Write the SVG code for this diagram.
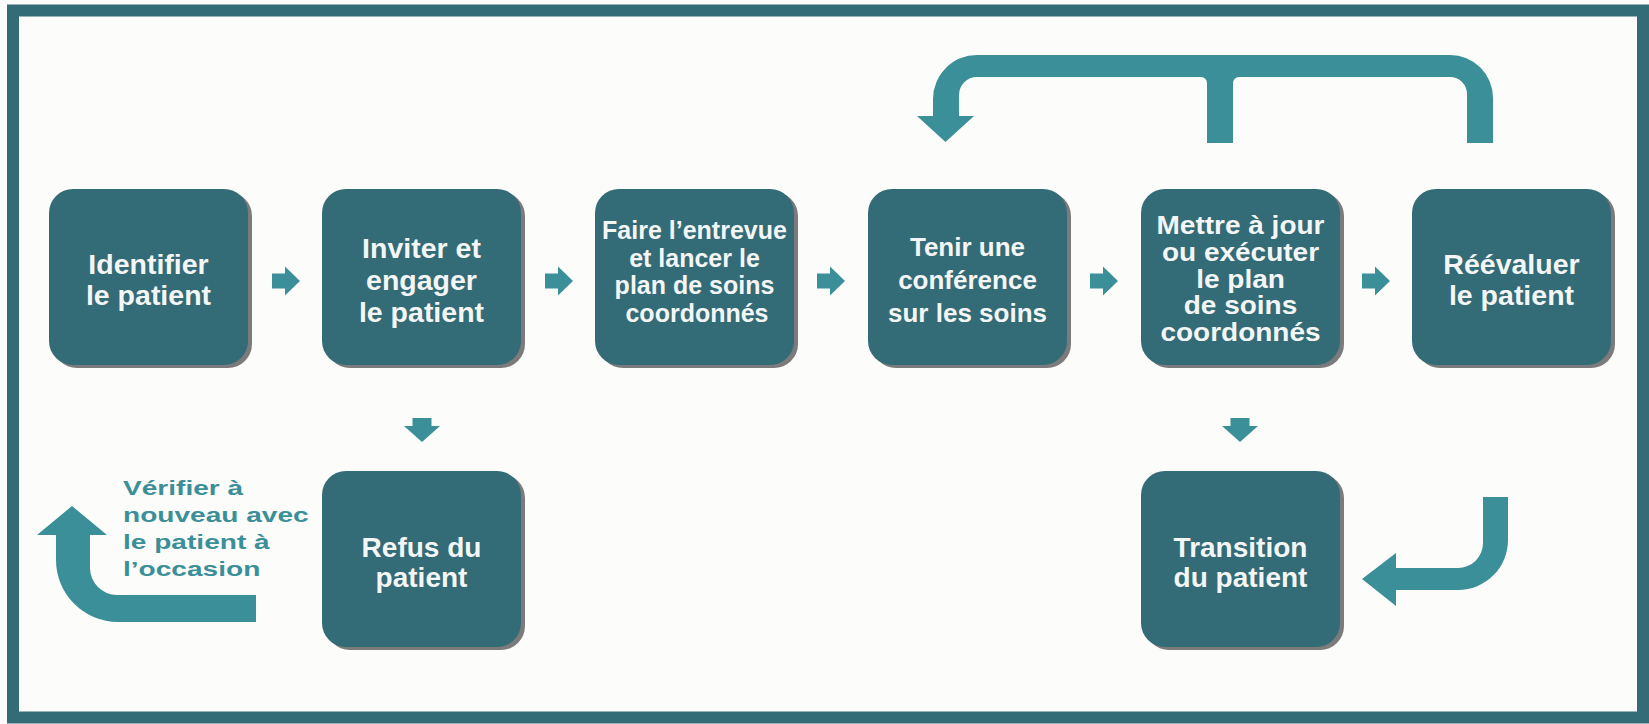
<svg xmlns="http://www.w3.org/2000/svg" xmlns:xlink="http://www.w3.org/1999/xlink" width="1649" height="724" viewBox="0 0 1649 724">
  <style>
    .box { fill: #336b77; }
    .shadow { fill: #7b7b7b; }
    .lbl { font-family: "Liberation Sans", Arial, sans-serif; font-weight: bold; fill: #f4f6f6; text-anchor: middle; }
    .l28 { font-size: 28.5px; }
    .l27 { font-size: 28px; }
    .l26 { font-size: 26px; }
    .l25 { font-size: 25px; }
    .arrow { fill: #3b8f98; }
    .note { font-family: "Liberation Sans", Arial, sans-serif; font-weight: bold; font-size: 20.5px; fill: #3b8f98; }
  </style>
  <defs>
    <!-- small block arrow pointing right, centred on origin -->
    <path id="arrowRight" d="M -14 -7.5 H -1 V -14.5 L 14 0 L -1 14.5 V 7.5 H -14 Z"/>
    <!-- small block arrow pointing down, tip at origin -->
    <path id="arrowDown" d="M -9.5 -24 H 9.5 V -16 H 18 L 0 0 L -18 -16 H -9.5 Z"/>
  </defs>

  <!-- page background and frame -->
  <rect x="0" y="0" width="1649" height="724" fill="#fcfcfa"/>
  <rect x="13" y="10.5" width="1630" height="707" fill="none" stroke="#336b77" stroke-width="12"/>

  <!-- process steps -->
  <g id="identifier">
    <rect class="shadow" x="53" y="192" width="199" height="176" rx="24"/>
    <rect class="box" x="49" y="189" width="199" height="176" rx="24"/>
    <text class="lbl l28" x="148.5" y="273.5">Identifier</text>
    <text class="lbl l28" x="148.5" y="305">le patient</text>
  </g>

  <g id="inviter">
    <rect class="shadow" x="326" y="192" width="199" height="176" rx="24"/>
    <rect class="box" x="322" y="189" width="199" height="176" rx="24"/>
    <text class="lbl l28" x="421.5" y="257.5">Inviter et</text>
    <text class="lbl l28" x="421.5" y="290">engager</text>
    <text class="lbl l28" x="421.5" y="321.5">le patient</text>
  </g>

  <g id="entrevue">
    <rect class="shadow" x="599" y="192" width="199" height="176" rx="24"/>
    <rect class="box" x="595" y="189" width="199" height="176" rx="24"/>
    <text class="lbl l25" x="694.5" y="239">Faire l’entrevue</text>
    <text class="lbl l25" x="694.5" y="267">et lancer le</text>
    <text class="lbl l25" x="694.5" y="294">plan de soins</text>
    <text class="lbl l25" x="697" y="322">coordonnés</text>
  </g>

  <g id="conference">
    <rect class="shadow" x="872" y="192" width="199" height="176" rx="24"/>
    <rect class="box" x="868" y="189" width="199" height="176" rx="24"/>
    <text class="lbl l26" x="967.5" y="255.5">Tenir une</text>
    <text class="lbl l26" x="967.5" y="289">conférence</text>
    <text class="lbl l26" x="967.5" y="321.5">sur les soins</text>
  </g>

  <g id="miseajour">
    <rect class="shadow" x="1145" y="192" width="199" height="176" rx="24"/>
    <rect class="box" x="1141" y="189" width="199" height="176" rx="24"/>
    <g transform="translate(1240.5 0) scale(1.12 1)">
      <text class="lbl l25" x="0" y="234">Mettre à jour</text>
      <text class="lbl l25" x="0" y="261">ou exécuter</text>
      <text class="lbl l25" x="0" y="288">le plan</text>
      <text class="lbl l25" x="0" y="314">de soins</text>
      <text class="lbl l25" x="0" y="341">coordonnés</text>
    </g>
  </g>

  <g id="reevaluer">
    <rect class="shadow" x="1416" y="192" width="199" height="176" rx="24"/>
    <rect class="box" x="1412" y="189" width="199" height="176" rx="24"/>
    <text class="lbl l28" x="1511.5" y="273.5">Réévaluer</text>
    <text class="lbl l28" x="1511.5" y="305">le patient</text>
  </g>

  <g id="refus">
    <rect class="shadow" x="326" y="474" width="199" height="176" rx="24"/>
    <rect class="box" x="322" y="471" width="199" height="176" rx="24"/>
    <text class="lbl l27" x="421.5" y="556.5">Refus du</text>
    <text class="lbl l27" x="421.5" y="587">patient</text>
  </g>

  <g id="transition">
    <rect class="shadow" x="1145" y="474" width="199" height="176" rx="24"/>
    <rect class="box" x="1141" y="471" width="199" height="176" rx="24"/>
    <text class="lbl l27" x="1240.5" y="556.5">Transition</text>
    <text class="lbl l27" x="1240.5" y="587">du patient</text>
  </g>

  <!-- connectors -->
  <g id="connectors" class="arrow">
    <use xlink:href="#arrowRight" href="#arrowRight" x="286" y="281"/>
    <use xlink:href="#arrowRight" href="#arrowRight" x="559" y="281"/>
    <use xlink:href="#arrowRight" href="#arrowRight" x="831" y="281"/>
    <use xlink:href="#arrowRight" href="#arrowRight" x="1104" y="281"/>
    <use xlink:href="#arrowRight" href="#arrowRight" x="1376" y="281"/>
    <use xlink:href="#arrowDown" href="#arrowDown" x="422" y="442"/>
    <use xlink:href="#arrowDown" href="#arrowDown" x="1240" y="442"/>

    <!-- loop back from update / re-assessment to the care conference -->
    <path d="M 917 116 L 945.5 142 L 974 116 L 959 116 L 959 95 A 18 18 0 0 1 977 77 L 1201 77 A 6 6 0 0 1 1207 83 L 1207 143 L 1233 143 L 1233 83 A 6 6 0 0 1 1239 77 L 1450 77 A 17 17 0 0 1 1467 94 L 1467 143 L 1493 143 L 1493 98 A 43 43 0 0 0 1450 55 L 977 55 A 44 44 0 0 0 933 99 L 933 116 Z"/>

    <!-- hook arrow into patient transition -->
    <path d="M 1483 497 L 1508 497 L 1508 540 A 50 50 0 0 1 1458 590 L 1396 590 L 1396 606 L 1362 579 L 1396 553 L 1396 568 L 1458 568 A 25 25 0 0 0 1483 543 Z"/>

    <!-- hook arrow for checking back with the patient later -->
    <path d="M 107 535 L 72 506 L 37 535 L 56 535 L 56 560 A 62 62 0 0 0 118 622 L 256 622 L 256 595 L 117 595 A 27 27 0 0 1 90 568 L 90 535 Z"/>
  </g>

  <g id="recheck-note" transform="translate(123 0) scale(1.37 1)">
    <text class="note" x="0" y="495">Vérifier à</text>
    <text class="note" x="0" y="522">nouveau avec</text>
    <text class="note" x="0" y="549">le patient à</text>
    <text class="note" x="0" y="576">l’occasion</text>
  </g>
</svg>
